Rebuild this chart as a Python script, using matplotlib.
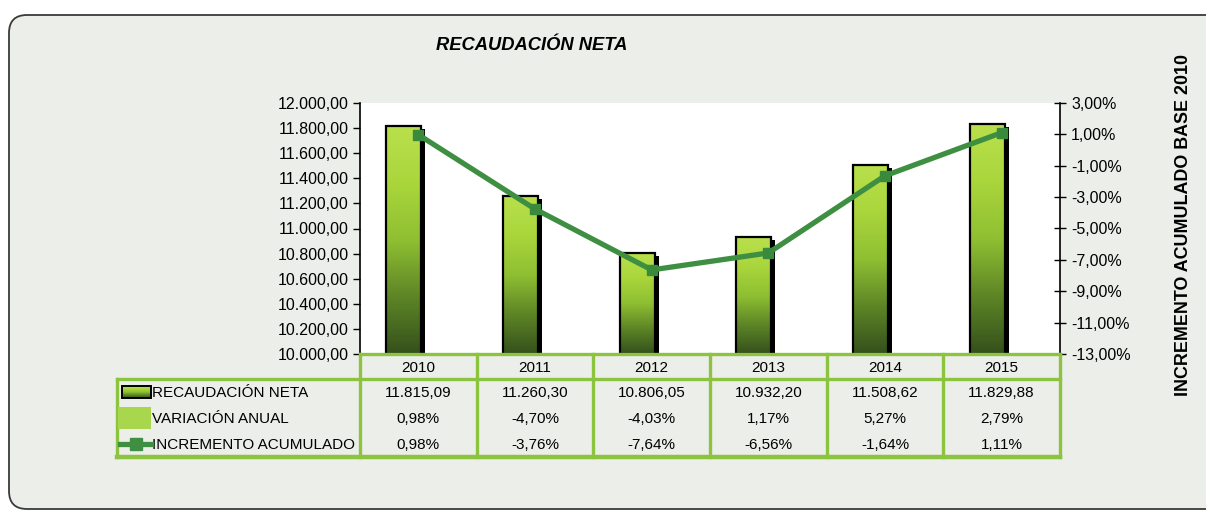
import matplotlib
matplotlib.use('Agg')
import matplotlib.pyplot as plt
import numpy as np
from matplotlib.patches import FancyBboxPatch, Rectangle
from matplotlib.lines import Line2D
from matplotlib.colors import LinearSegmentedColormap
from matplotlib.ticker import FuncFormatter

# ---------------- data ----------------
years = ['2010', '2011', '2012', '2013', '2014', '2015']
recaudacion = [11815.09, 11260.30, 10806.05, 10932.20, 11508.62, 11829.88]
variacion = [0.98, -4.70, -4.03, 1.17, 5.27, 2.79]
incremento = [0.98, -3.76, -7.64, -6.56, -1.64, 1.11]
row_labels = ['RECAUDACIÓN NETA', 'VARIACIÓN ANUAL', 'INCREMENTO ACUMULADO']
title = 'RECAUDACIÓN NETA'
right_label = 'INCREMENTO ACUMULADO BASE 2010'


def es(v, dec=2):
    s = f"{v:,.{dec}f}"
    return s.replace(',', 'X').replace('.', ',').replace('X', '.')


REG = ['Liberation Sans', 'DejaVu Sans']

W, H = 1206, 522
fig = plt.figure(figsize=(W / 100, H / 100), dpi=100, facecolor='white')

# background panel
bg = fig.add_axes([0, 0, 1, 1], zorder=0)
bg.set_xlim(0, W)
bg.set_ylim(H, 0)
bg.axis('off')
bg.add_patch(FancyBboxPatch((9, 15), 1215, 494,
                            boxstyle='round,pad=0,rounding_size=18',
                            fc='#eceee9', ec='#3a3a3a', lw=1.3))

# main axes
L, R, T, B = 360, 1060, 103, 354
ax = fig.add_axes([L / W, 1 - B / H, (R - L) / W, (B - T) / H], zorder=1)
ax.set_facecolor('white')

x = np.arange(len(years))
bw = 0.30
off = -0.275
grad = np.linspace(0, 1, 256).reshape(-1, 1)
cmap = LinearSegmentedColormap.from_list(
    'g', ['#34501c', '#5d8526', '#8fbf32', '#aad63c', '#b9e04c'])
for xi, h in zip(x, recaudacion):
    ax.bar(xi + off + bw, h - 25 - 10000, width=0.035, bottom=10000,
           align='edge', color='black', zorder=2)
    ax.imshow(grad, extent=[xi + off, xi + off + bw, 10000, h],
              origin='lower', cmap=cmap, aspect='auto', zorder=3)
    ax.bar(xi + off, h - 10000, width=bw, bottom=10000, align='edge',
           fill=False, edgecolor='black', lw=1.6, zorder=4)

ax.set_xlim(-0.5, len(years) - 0.5)
ax.set_ylim(10000, 12000)
ax.set_aspect('auto')
ax.set_xticks([])
ax.set_yticks(np.arange(10000, 12001, 200))
ax.yaxis.set_major_formatter(FuncFormatter(lambda v, p: es(v)))
ax.tick_params(axis='y', direction='out', length=5, width=1, pad=3,
               labelsize=11.5, colors='black')
for t in ax.get_yticklabels():
    t.set_fontfamily(REG)
for s in ['top', 'right', 'bottom']:
    ax.spines[s].set_visible(False)
ax.spines['left'].set_color('black')
ax.spines['left'].set_linewidth(1.2)

ax2 = ax.twinx()
ax2.set_ylim(-13, 3)
line_color = '#3f8f42'
ax2.plot(x, incremento, color=line_color, lw=3.8, marker='s', ms=6.5,
         mfc='#3a8a3d', mec='#3a8a3d', zorder=5, solid_capstyle='round')
ax2.set_yticks(np.arange(-13, 3.01, 2))
ax2.yaxis.set_major_formatter(FuncFormatter(lambda v, p: es(v) + '%'))
ax2.tick_params(axis='y', direction='inout', length=8, width=1, pad=4,
                labelsize=11.5, colors='black')
for t in ax2.get_yticklabels():
    t.set_fontfamily(REG)
for s in ['top', 'left', 'bottom']:
    ax2.spines[s].set_visible(False)
ax2.spines['right'].set_color('black')
ax2.spines['right'].set_linewidth(1.2)

# title and right label
fig.text(532 / W, 1 - 46 / H, title, ha='center', va='center',
         fontweight='bold', style='italic', fontsize=13.2, family=REG)
fig.text(1183 / W, 1 - 225 / H, right_label, rotation=90, ha='center',
         va='center', fontweight='bold', fontsize=12.9, family=REG)

# ---------------- data table ----------------
tb = fig.add_axes([0, 0, 1, 1], zorder=3)
tb.set_xlim(0, W)
tb.set_ylim(H, 0)
tb.axis('off')
tb.patch.set_alpha(0)

green = '#8cc43f'
lw_t = 2.4
col_w = (R - L) / len(years)
y_head0, y_head1, y_bot = 354, 379, 457
x_leg = 117
fs_t = 11.0

tb.plot([L, R], [y_head0, y_head0], color=green, lw=lw_t, solid_capstyle='projecting')
tb.plot([x_leg, R], [y_head1, y_head1], color=green, lw=lw_t, solid_capstyle='projecting')
tb.plot([x_leg, R], [y_bot, y_bot], color=green, lw=lw_t + 0.8, solid_capstyle='projecting')
tb.plot([x_leg, x_leg], [y_head1, y_bot], color=green, lw=lw_t, solid_capstyle='projecting')
for i in range(len(years) + 1):
    xx = L + i * col_w
    tb.plot([xx, xx], [y_head0, y_bot], color=green, lw=lw_t, solid_capstyle='projecting')

row_h = (y_bot - y_head1) / 3
for i, yr in enumerate(years):
    cx = L + (i + 0.5) * col_w
    tb.text(cx, (y_head0 + y_head1) / 2 + 1, yr, ha='center', va='center',
            fontsize=fs_t, family=REG)
    vals = [es(recaudacion[i]), es(variacion[i]) + '%', es(incremento[i]) + '%']
    for r, v in enumerate(vals):
        tb.text(cx, y_head1 + (r + 0.5) * row_h + 1, v, ha='center',
                va='center', fontsize=fs_t, family=REG)

for r, lab in enumerate(row_labels):
    tb.text(152, y_head1 + (r + 0.5) * row_h + 1, lab, ha='left',
            va='center', fontsize=fs_t, family=REG)

# legend keys
yc0 = y_head1 + 0.5 * row_h
tb.imshow(grad, extent=[122, 151, yc0 + 6, yc0 - 6], origin='lower',
          cmap=cmap, aspect='auto', zorder=4)
tb.add_patch(Rectangle((122, yc0 - 6), 29, 12, fill=False, ec='black',
                       lw=1.4, zorder=5))
yc1 = y_head1 + 1.5 * row_h
tb.add_patch(Rectangle((118, yc1 - 11), 33, 22, fc='#a8d64c', ec='none',
                       zorder=4))
yc2 = y_head1 + 2.5 * row_h
tb.add_line(Line2D([120, 151], [yc2, yc2], color=line_color, lw=3.8,
                   zorder=5))
tb.add_line(Line2D([135.5], [yc2], color=line_color, marker='s', ms=8,
                   lw=0, zorder=6))
tb.set_xlim(0, W)
tb.set_ylim(H, 0)

fig.savefig('out.png', dpi=100, facecolor='white')
